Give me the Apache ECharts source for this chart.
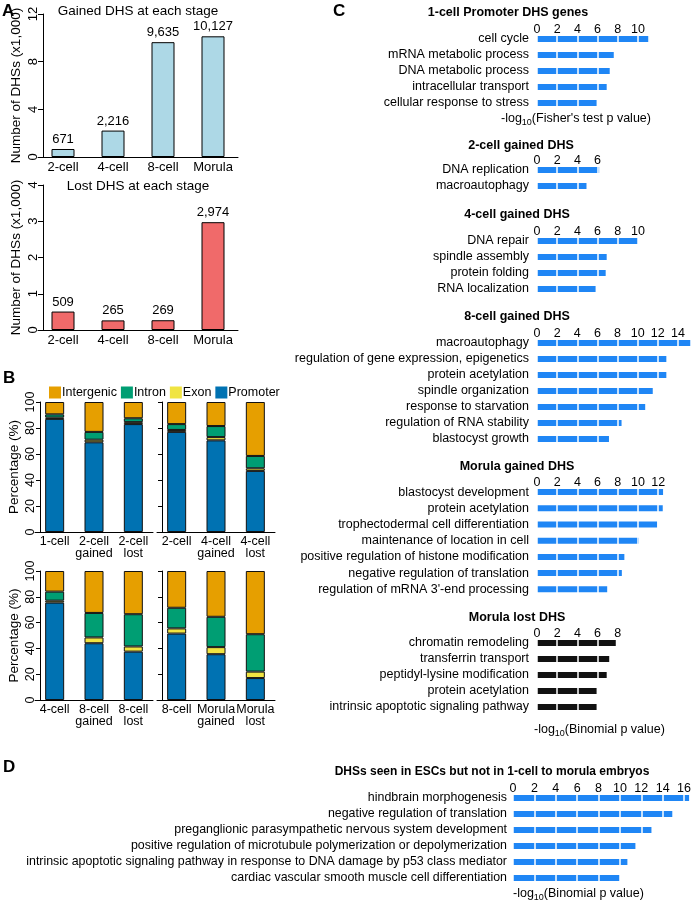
<!DOCTYPE html>
<html>
<head>
<meta charset="utf-8">
<script src="https://cdn.jsdelivr.net/npm/echarts@6/dist/echarts.min.js"></script>
<style>
  html, body { margin: 0; padding: 0; background: #fff; }
  #fig { width: 694px; height: 900px; }
</style>
</head>
<body>
<div id="fig"></div>
<script>
var FONT = "'Liberation Sans', Arial, Helvetica, sans-serif";

// A: DHS counts per stage
var stages = ['2-cell', '4-cell', '8-cell', 'Morula'];
var gainedDHS = [671, 2216, 9635, 10127];
var lostDHS = [509, 265, 269, 2974];

// B: genomic distribution (%), one row per sub plot
var bCategories = [
  ['1-cell', '2-cell\ngained', '2-cell\nlost'],
  ['2-cell', '4-cell\ngained', '4-cell\nlost'],
  ['4-cell', '8-cell\ngained', '8-cell\nlost'],
  ['8-cell', 'Morula\ngained', 'Morula\nlost']
];
var promoterPct = [[87, 69, 83], [77, 70.5, 47], [75.5, 44, 37.5], [51.5, 35.5, 17]];
var exonPct = [[1, 2, 1.5], [1.5, 2.5, 2], [1.5, 4.5, 4], [4, 5.5, 5]];
var intronPct = [[2.5, 6, 3], [4.5, 8.5, 9.5], [7, 19, 25], [16, 23.5, 29]];
var intergenicPct = [[9.5, 23, 12.5], [17, 18.5, 41.5], [16, 32.5, 33.5], [28.5, 35.5, 49]];

// C / D: GO terms and -log10 p values
var oneCellTerms = ['cell cycle', 'mRNA metabolic process', 'DNA metabolic process', 'intracellular transport', 'cellular response to stress'];
var oneCellScores = [11.1, 7.6, 7.2, 6.9, 5.9];
var twoCellTerms = ['DNA replication', 'macroautophagy'];
var twoCellScores = [6.2, 4.9];
var fourCellTerms = ['DNA repair', 'spindle assembly', 'protein folding', 'RNA localization'];
var fourCellScores = [10.0, 6.9, 6.8, 5.8];
var eightCellTerms = ['macroautophagy', 'regulation of gene expression, epigenetics', 'protein acetylation', 'spindle organization', 'response to starvation', 'regulation of RNA stability', 'blastocyst growth'];
var eightCellScores = [15.3, 12.85, 12.85, 11.5, 10.75, 8.4, 7.15];
var morulaGainedTerms = ['blastocyst development', 'protein acetylation', 'trophectodermal cell differentiation', 'maintenance of location in cell', 'positive regulation of histone modification', 'negative regulation of translation', "regulation of mRNA 3'-end processing"];
var morulaGainedScores = [12.5, 12.45, 11.9, 10.1, 8.65, 8.4, 6.95];
var morulaLostTerms = ['chromatin remodeling', 'transferrin transport', 'peptidyl-lysine modification', 'protein acetylation', 'intrinsic apoptotic signaling pathway'];
var morulaLostScores = [7.8, 7.15, 6.9, 5.9, 5.9];
var escTerms = ['hindbrain morphogenesis', 'negative regulation of translation', 'preganglionic parasympathetic nervous system development', 'positive regulation of microtubule polymerization or depolymerization', 'intrinsic apoptotic signaling pathway in response to DNA damage by p53 class mediator', 'cardiac vascular smooth muscle cell differentiation'];
var escScores = [16.5, 14.9, 12.95, 11.45, 10.7, 10.0];

var chart = echarts.init(document.getElementById('fig'));

var grids = [], xAxes = [], yAxes = [], series = [], titles = [];
var black = '#000';

function addTitle(text, left, top, size, bold, align, rich) {
  titles.push({
    text: text, left: left, top: top, textAlign: align || 'left', padding: 0,
    textStyle: { fontFamily: FONT, fontSize: size, fontWeight: bold ? 'bold' : 'normal', color: black, rich: rich }
  });
}

// panel letters
addTitle('A', 2, 3, 17, true);
addTitle('B', 3, 370, 17, true);
addTitle('C', 333, 3, 17, true);
addTitle('D', 3, 759, 17, true);

// ---- A ----
[
  { data: gainedDHS, color: '#add8e6', top: 14, height: 143, max: 12, interval: 4, title: 'Gained DHS at each stage', titleTop: 4 },
  { data: lostDHS, color: '#f06a6a', top: 185, height: 145, max: 4, interval: 1, title: 'Lost DHS at each stage', titleTop: 179 }
].forEach(function (p) {
  var gi = grids.length;
  grids.push({ left: 38, top: p.top, width: 200, height: p.height });
  addTitle(p.title, 138, p.titleTop, 13.5, false, 'center');
  xAxes.push({
    gridIndex: gi, type: 'category', data: stages,
    axisTick: { show: false }, axisLine: { lineStyle: { color: black } },
    axisLabel: { interval: 0, fontFamily: FONT, fontSize: 13, color: black, margin: 4 }
  });
  yAxes.push({
    gridIndex: gi, type: 'value', min: 0, max: p.max, interval: p.interval, offset: -5,
    axisLine: { show: true, lineStyle: { color: black } },
    axisTick: { show: true, length: 5, lineStyle: { color: black } },
    axisLabel: { rotate: 90, fontFamily: FONT, fontSize: 13, color: black, margin: 3 },
    splitLine: { show: false },
    name: 'Number of DHSs (x1,000)', nameLocation: 'middle', nameGap: 20,
    nameTextStyle: { fontFamily: FONT, fontSize: 13.5, color: black }
  });
  series.push({
    type: 'bar', xAxisIndex: gi, yAxisIndex: gi, barWidth: 23,
    data: p.data.map(function (v) { return v / 1000; }),
    itemStyle: { color: p.color, borderColor: black, borderWidth: 1 },
    label: {
      show: true, position: 'top', distance: 3, fontFamily: FONT, fontSize: 13, color: black,
      formatter: function (d) { return p.data[d.dataIndex].toLocaleString('en-US'); }
    }
  });
});

// ---- B ----
var bLayout = [
  { left: 35, top: 402, height: 130, labels: true },
  { left: 157, top: 402, height: 130, labels: false },
  { left: 35, top: 571, height: 129, labels: true },
  { left: 157, top: 571, height: 129, labels: false }
];
var bParts = [
  { name: 'Promoter', values: promoterPct, color: '#0072B2' },
  { name: 'Exon', values: exonPct, color: '#F0E442' },
  { name: 'Intron', values: intronPct, color: '#009E73' },
  { name: 'Intergenic', values: intergenicPct, color: '#E69F00' }
];
bLayout.forEach(function (L, k) {
  var gi = grids.length;
  grids.push({ left: L.left, top: L.top, width: 118, height: L.height });
  xAxes.push({
    gridIndex: gi, type: 'category', data: bCategories[k],
    axisTick: { show: false }, axisLine: { lineStyle: { color: black } },
    axisLabel: { interval: 0, fontFamily: FONT, fontSize: 12.5, lineHeight: 12, color: black, margin: 4 }
  });
  yAxes.push({
    gridIndex: gi, type: 'value', min: 0, max: 100, interval: 20, offset: -5,
    axisLine: { show: true, lineStyle: { color: black } },
    axisTick: { show: true, length: 4, lineStyle: { color: black } },
    axisLabel: { show: L.labels, rotate: 90, fontFamily: FONT, fontSize: 12.5, color: black, margin: 3 },
    splitLine: { show: false },
    name: L.labels ? 'Percentage (%)' : '', nameLocation: 'middle', nameGap: 19,
    nameTextStyle: { fontFamily: FONT, fontSize: 13.5, color: black }
  });
  bParts.forEach(function (part) {
    series.push({
      type: 'bar', name: part.name, stack: 'b' + k, xAxisIndex: gi, yAxisIndex: gi, barWidth: 19,
      data: part.values[k],
      itemStyle: { color: part.color, borderColor: '#111', borderWidth: 1 }
    });
  });
});

// ---- C and D ----
var goSections = [
  { title: '1-cell Promoter DHS genes', terms: oneCellTerms, scores: oneCellScores, tickMax: 10, color: '#1f86f5',
    left: 537, px: 10.1, top: 31, band: 16, titleX: 508, titleTop: 6, axisName: "-log{s|10}(Fisher's test p value)", nameLeft: 501, nameTop: 110 },
  { title: '2-cell gained DHS', terms: twoCellTerms, scores: twoCellScores, tickMax: 6, color: '#1f86f5',
    left: 537, px: 10.1, top: 162, band: 16, titleX: 521, titleTop: 139 },
  { title: '4-cell gained DHS', terms: fourCellTerms, scores: fourCellScores, tickMax: 10, color: '#1f86f5',
    left: 537, px: 10.1, top: 233, band: 16, titleX: 517, titleTop: 208 },
  { title: '8-cell gained DHS', terms: eightCellTerms, scores: eightCellScores, tickMax: 14, color: '#1f86f5',
    left: 537, px: 10.1, top: 335, band: 16, titleX: 517, titleTop: 310 },
  { title: 'Morula gained DHS', terms: morulaGainedTerms, scores: morulaGainedScores, tickMax: 12, color: '#1f86f5',
    left: 537, px: 10.1, top: 484, band: 16.2, titleX: 517, titleTop: 460 },
  { title: 'Morula lost DHS', terms: morulaLostTerms, scores: morulaLostScores, tickMax: 8, color: '#111',
    left: 537, px: 10.1, top: 635, band: 16, titleX: 517, titleTop: 611, axisName: '-log{s|10}(Binomial p value)', nameLeft: 534, nameTop: 721 },
  { title: 'DHSs seen in ESCs but not in 1-cell to morula embryos', terms: escTerms, scores: escScores, tickMax: 16, color: '#1f86f5',
    left: 513, px: 10.94, top: 790, band: 16, titleX: 492, titleTop: 766, titleSize: 12, labelMargin: 6, labelSize: 12.4,
    axisName: '-log{s|10}(Binomial p value)', nameLeft: 513, nameTop: 885 }
];
var subRich = { s: { fontFamily: FONT, fontSize: 9, color: black, padding: [8, 0, 0, 0] } };

goSections.forEach(function (s) {
  var gi = grids.length;
  var axisMax = Math.max(s.tickMax, Math.max.apply(null, s.scores));
  grids.push({ left: s.left, top: s.top, width: axisMax * s.px, height: s.band * s.terms.length });
  addTitle(s.title, s.titleX, s.titleTop, s.titleSize || 12.5, true, 'center');
  if (s.axisName) addTitle(s.axisName, s.nameLeft, s.nameTop, 12.5, false, 'left', subRich);
  xAxes.push({
    gridIndex: gi, type: 'value', position: 'top', min: 0, max: axisMax, interval: 2, z: 5,
    axisLine: { show: false }, axisTick: { show: false },
    axisLabel: {
      fontFamily: FONT, fontSize: 12.5, color: black, margin: -5,
      formatter: function (v) { return (v % 2 === 0 && v <= s.tickMax) ? String(v) : ''; }
    },
    splitLine: { show: true, lineStyle: { color: '#fff', width: 1.5 } }
  });
  yAxes.push({
    gridIndex: gi, type: 'category', inverse: true, data: s.terms,
    axisLine: { show: false }, axisTick: { show: false },
    axisLabel: { interval: 0, fontFamily: FONT, fontSize: s.labelSize || 12.5, color: black, margin: s.labelMargin || 8 }
  });
  series.push({
    type: 'bar', xAxisIndex: gi, yAxisIndex: gi, barWidth: 6, data: s.scores,
    itemStyle: { color: s.color }
  });
});

chart.setOption({
  backgroundColor: '#fff',
  animation: false,
  textStyle: { fontFamily: FONT },
  title: titles,
  legend: {
    data: ['Intergenic', 'Intron', 'Exon', 'Promoter'],
    left: 44, top: 381, icon: 'rect', itemWidth: 12, itemHeight: 12, itemGap: 4,
    itemStyle: { borderWidth: 0 },
    textStyle: { fontFamily: FONT, fontSize: 12.5, color: black, padding: [0, 0, 0, -4] },
    selectedMode: false
  },
  grid: grids,
  xAxis: xAxes,
  yAxis: yAxes,
  series: series
});
</script>
</body>
</html>
